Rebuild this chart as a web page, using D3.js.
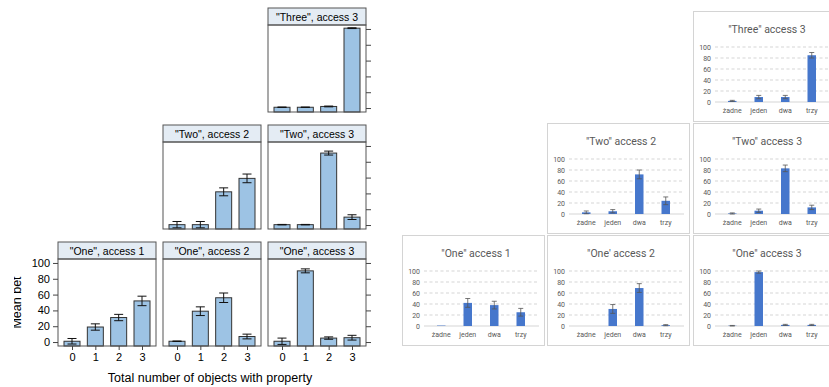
<!DOCTYPE html>
<html>
<head>
<meta charset="utf-8">
<script src="https://cdn.jsdelivr.net/npm/d3@7"></script>
<style>
  body { margin: 0; background: #fff; }
  svg { display: block; }
</style>
</head>
<body>
<svg id="chart" width="829" height="387"></svg>
<script>
// ---- data: left (lattice) panels ----
const countCats = ["0", "1", "2", "3"];
const yTicks = [0, 20, 40, 60, 80, 100];

const one1Mean = [1, 19, 31, 52];
const one1Err = [3.5, 4, 4, 6];
const one2Mean = [1, 39, 56, 7];
const one2Err = [0.3, 5.5, 6, 3];
const one3Mean = [1, 90, 5, 5.5];
const one3Err = [4, 2.5, 1.5, 3];
const two2Mean = [0.5, 0.5, 42, 59];
const two2Err = [4, 4, 5, 5.5];
const two3Mean = [0.5, 0.5, 91, 10];
const two3Err = [0.3, 0.3, 2.5, 3];
const three3Mean = [1, 1, 2, 101];
const three3Err = [0.3, 0.3, 0.5, 0.5];

// ---- data: right (spreadsheet) panels ----
const wordCats = ["żadne", "jeden", "dwa", "trzy"];

const xOne1Mean = [0.8, 42, 38, 25];
const xOne1Err = [0, 8, 7, 7];
const xOne2Mean = [0, 31, 69, 1.5];
const xOne2Err = [0, 8, 8, 1];
const xOne3Mean = [0.5, 98, 2, 2];
const xOne3Err = [0.5, 2, 1, 1];
const xTwo2Mean = [3, 5, 72, 24];
const xTwo2Err = [2.5, 3, 8, 7];
const xTwo3Mean = [1, 6, 83, 12];
const xTwo3Err = [1, 3, 6, 4];
const xThree3Mean = [2, 9, 9, 85];
const xThree3Err = [1, 3, 3, 5];

// panels: row 0 = bottom, col 0 = left
const latticePanels = [
  { title: '"One", access 1', row: 0, col: 0, mean: one1Mean, err: one1Err },
  { title: '"One", access 2', row: 0, col: 1, mean: one2Mean, err: one2Err },
  { title: '"One", access 3', row: 0, col: 2, mean: one3Mean, err: one3Err },
  { title: '"Two", access 2', row: 1, col: 1, mean: two2Mean, err: two2Err },
  { title: '"Two", access 3', row: 1, col: 2, mean: two3Mean, err: two3Err },
  { title: '"Three", access 3', row: 2, col: 2, mean: three3Mean, err: three3Err }
];
const excelPanels = [
  { title: '"One" access 1', row: 0, col: 0, mean: xOne1Mean, err: xOne1Err },
  { title: '"One\' access 2', row: 0, col: 1, mean: xOne2Mean, err: xOne2Err },
  { title: '"One" access 3', row: 0, col: 2, mean: xOne3Mean, err: xOne3Err },
  { title: '"Two" access 2', row: 1, col: 1, mean: xTwo2Mean, err: xTwo2Err },
  { title: '"Two" access 3', row: 1, col: 2, mean: xTwo3Mean, err: xTwo3Err },
  { title: '"Three" access 3', row: 2, col: 2, mean: xThree3Mean, err: xThree3Err }
];

const svg = d3.select('#chart');

// ================= left: lattice style =================
const L = { left: 58, colStep: 105, pw: 98, ph: 87, strip: 17, bottomRow1: 259, rowStep: 117 };
const latFont = '"Liberation Sans", Arial, sans-serif';

const yLat = d3.scaleLinear().domain([-5, 105]).range([L.ph, 0]);
const xLat = d3.scalePoint().domain(countCats).range([0, L.pw]).padding(0.6);
const barW = 16;

latticePanels.forEach(p => {
  const px = L.left + p.col * L.colStep;
  const py = L.bottomRow1 - p.row * L.rowStep;  // top of panel area (below strip)
  const g = svg.append('g').attr('transform', `translate(${px},${py})`);

  // strip
  g.append('rect')
    .attr('x', 0).attr('y', -L.strip)
    .attr('width', L.pw).attr('height', L.strip)
    .attr('fill', '#e4ecf4').attr('stroke', '#555').attr('stroke-width', 1);
  g.append('text')
    .attr('x', L.pw / 2).attr('y', -L.strip / 2 + 4)
    .attr('text-anchor', 'middle')
    .style('font-family', latFont).style('font-size', '10.5px').style('fill', '#000')
    .text(p.title);

  // bars
  const data = countCats.map((c, i) => ({ c, m: p.mean[i], e: p.err[i] }));
  g.selectAll('rect.bar').data(data).enter().append('rect')
    .attr('class', 'bar')
    .attr('x', d => xLat(d.c) - barW / 2)
    .attr('y', d => yLat(d.m))
    .attr('width', barW)
    .attr('height', d => yLat(-5) - yLat(d.m))
    .attr('fill', '#9dc3e4').attr('stroke', '#333').attr('stroke-width', 1);

  // error bars
  const eb = g.selectAll('g.eb').data(data).enter().append('g').attr('class', 'eb')
    .attr('stroke', '#111').attr('stroke-width', 1);
  eb.append('line')
    .attr('x1', d => xLat(d.c)).attr('x2', d => xLat(d.c))
    .attr('y1', d => yLat(d.m - d.e)).attr('y2', d => yLat(d.m + d.e));
  eb.append('line')
    .attr('x1', d => xLat(d.c) - 4.5).attr('x2', d => xLat(d.c) + 4.5)
    .attr('y1', d => yLat(d.m + d.e)).attr('y2', d => yLat(d.m + d.e));
  eb.append('line')
    .attr('x1', d => xLat(d.c) - 4.5).attr('x2', d => xLat(d.c) + 4.5)
    .attr('y1', d => yLat(d.m - d.e)).attr('y2', d => yLat(d.m - d.e));

  // panel border
  g.append('rect')
    .attr('width', L.pw).attr('height', L.ph)
    .attr('fill', 'none').attr('stroke', '#555').attr('stroke-width', 1);

  // left axis with labels on first panel
  if (p.row === 0 && p.col === 0) {
    const ax = g.append('g').call(d3.axisLeft(yLat).tickValues(yTicks).tickSize(5).tickPadding(3));
    ax.select('.domain').remove();
    ax.selectAll('line').attr('stroke', '#444');
    ax.selectAll('text').style('font-family', latFont).style('font-size', '11px').style('fill', '#000');
  }
  // right ticks on right column
  if (p.col === 2) {
    const ax = g.append('g').attr('transform', `translate(${L.pw},0)`)
      .call(d3.axisRight(yLat).tickValues(yTicks).tickSize(5).tickFormat(''));
    ax.select('.domain').remove();
    ax.selectAll('line').attr('stroke', '#444');
  }
  // bottom axis on bottom row
  if (p.row === 0) {
    const ax = g.append('g').attr('transform', `translate(0,${L.ph})`)
      .call(d3.axisBottom(xLat).tickSize(4).tickPadding(3));
    ax.select('.domain').remove();
    ax.selectAll('line').attr('stroke', '#444');
    ax.selectAll('text').style('font-family', latFont).style('font-size', '11px').style('fill', '#000');
  }
});

// axis titles
svg.append('text')
  .attr('x', (L.left + 2 * L.colStep + L.left + L.pw) / 2 - 2)
  .attr('y', 382)
  .attr('text-anchor', 'middle')
  .style('font-family', latFont).style('font-size', '12.5px').style('fill', '#000')
  .text('Total number of objects with property');

// y title, cut on its left side as in the source figure
const clip = svg.append('clipPath').attr('id', 'ylabclip');
clip.append('rect').attr('x', 14).attr('y', 200).attr('width', 40).attr('height', 180);
svg.append('g').attr('clip-path', 'url(#ylabclip)')
  .append('text')
  .attr('transform', `translate(21,${L.bottomRow1 + L.ph / 2}) rotate(-90)`)
  .attr('text-anchor', 'middle')
  .style('font-family', latFont).style('font-size', '12.5px').style('fill', '#000')
  .text('Mean bet');

// ================= right: spreadsheet style =================
const E = { left: 402, colStep: 145, w: 142, h: 112, topRow1: 235, rowStep: 112 };
const xlFont = 'Roboto, "Open Sans", sans-serif';

const yXl = d3.scaleLinear().domain([0, 100]).range([91, 36]);
const xXl = d3.scaleBand().domain(wordCats).range([26, 132]);
const xBarW = 8.5;

excelPanels.forEach(p => {
  const bx = E.left + p.col * E.colStep + (p.col === 2 ? 1 : 0);
  const by = E.topRow1 - p.row * E.rowStep;
  const g = svg.append('g').attr('transform', `translate(${bx},${by})`);

  g.append('rect')
    .attr('x', 0.5).attr('y', 0.5)
    .attr('width', E.w).attr('height', E.h - 2)
    .attr('fill', '#fff').attr('stroke', '#d4d4d4').attr('stroke-width', 1);

  g.append('text')
    .attr('x', 74).attr('y', 22)
    .attr('text-anchor', 'middle')
    .style('font-family', xlFont).style('font-size', '10.5px').style('fill', '#595959')
    .text(p.title);

  // gridlines
  g.selectAll('line.grid').data(yTicks.slice(1)).enter().append('line')
    .attr('class', 'grid')
    .attr('x1', 22).attr('x2', 137)
    .attr('y1', d => yXl(d)).attr('y2', d => yXl(d))
    .attr('stroke', '#d0d0d0').attr('stroke-width', 0.9).attr('stroke-dasharray', '3,2.5');
  g.append('line')
    .attr('x1', 22).attr('x2', 137)
    .attr('y1', yXl(0)).attr('y2', yXl(0))
    .attr('stroke', '#d0d0d0').attr('stroke-width', 0.9);

  // y labels
  const ay = g.append('g').attr('transform', 'translate(22,0)')
    .call(d3.axisLeft(yXl).tickValues(yTicks).tickSize(0).tickPadding(4));
  ay.select('.domain').remove();
  ay.selectAll('text').style('font-family', xlFont).style('font-size', '7px').style('fill', '#595959');

  // category labels
  const axc = g.append('g').attr('transform', `translate(0,${yXl(0)})`)
    .call(d3.axisBottom(xXl).tickSize(0).tickPadding(6));
  axc.select('.domain').remove();
  axc.selectAll('text').style('font-family', xlFont).style('font-size', '7px').style('fill', '#595959');

  const data = wordCats.map((c, i) => ({ c, m: p.mean[i], e: p.err[i] }));
  const cx = d => xXl(d.c) + xXl.bandwidth() / 2;
  g.selectAll('rect.bar').data(data.filter(d => d.m > 0)).enter().append('rect')
    .attr('class', 'bar')
    .attr('x', d => cx(d) - xBarW / 2)
    .attr('y', d => yXl(d.m))
    .attr('width', xBarW)
    .attr('height', d => yXl(0) - yXl(d.m))
    .attr('fill', '#4677cc');

  const eb = g.selectAll('g.eb').data(data.filter(d => d.e > 0)).enter().append('g').attr('class', 'eb')
    .attr('stroke', '#555').attr('stroke-width', 0.8);
  eb.append('line')
    .attr('x1', cx).attr('x2', cx)
    .attr('y1', d => yXl(Math.max(0, d.m - d.e))).attr('y2', d => yXl(d.m + d.e));
  eb.append('line')
    .attr('x1', d => cx(d) - 2.5).attr('x2', d => cx(d) + 2.5)
    .attr('y1', d => yXl(d.m + d.e)).attr('y2', d => yXl(d.m + d.e));
  eb.append('line')
    .attr('x1', d => cx(d) - 2.5).attr('x2', d => cx(d) + 2.5)
    .attr('y1', d => yXl(Math.max(0, d.m - d.e))).attr('y2', d => yXl(Math.max(0, d.m - d.e)));
});
</script>
</body>
</html>
